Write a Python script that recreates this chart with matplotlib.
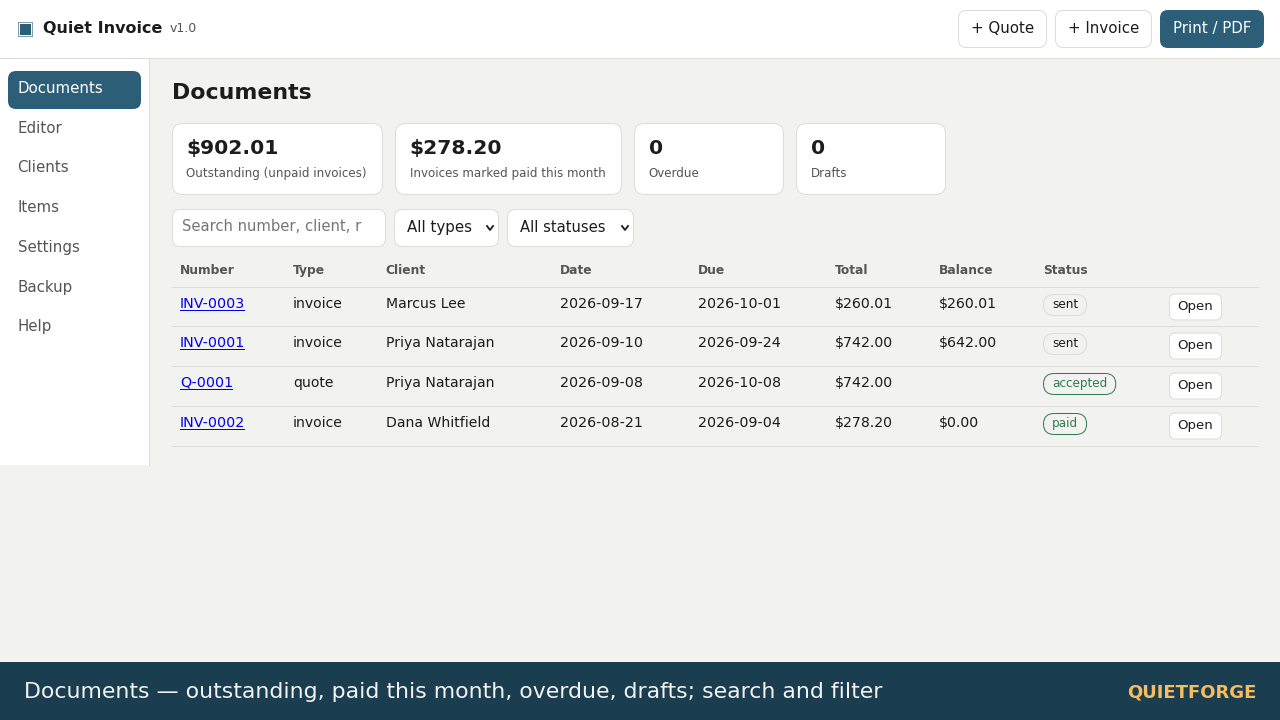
#!/usr/bin/env python3
# -*- coding: utf-8 -*-
import matplotlib
matplotlib.use("Agg")
import matplotlib.pyplot as plt
from matplotlib.patches import FancyBboxPatch, Rectangle

# contents of the page
nav_items = ["Documents", "Editor", "Clients", "Items", "Settings", "Backup", "Help"]
stat_values = ["$902.01", "$278.20", "0", "0"]
stat_labels = ["Outstanding (unpaid invoices)", "Invoices marked paid this month", "Overdue", "Drafts"]
columns = ["Number", "Type", "Client", "Date", "Due", "Total", "Balance", "Status"]
numbers = ["INV-0003", "INV-0001", "Q-0001", "INV-0002"]
types = ["invoice", "invoice", "quote", "invoice"]
clients = ["Marcus Lee", "Priya Natarajan", "Priya Natarajan", "Dana Whitfield"]
dates = ["2026-09-17", "2026-09-10", "2026-09-08", "2026-08-21"]
dues = ["2026-10-01", "2026-09-24", "2026-10-08", "2026-09-04"]
totals = ["$260.01", "$742.00", "$742.00", "$278.20"]
balances = ["$260.01", "$642.00", "", "$0.00"]
statuses = ["sent", "sent", "accepted", "paid"]

TEAL = "#2c5f77"
INK = "#1c1c1c"
GREY = "#555555"
BORDER = "#dcdcd9"
GREEN = "#2e7d50"
LW = 0.72

plt.rcParams["font.family"] = ["DejaVu Sans"]
fig = plt.figure(figsize=(12.8, 7.2), dpi=100, facecolor="#f2f2f0")
ax = fig.add_axes([0, 0, 1, 1])
ax.set_xlim(0, 1280)
ax.set_ylim(720, 0)
ax.axis("off")


def px(size):
    return size * 72 / 100


def box(x, y, w, h, r, fc, ec="none", lw=LW, z=2):
    ax.add_patch(FancyBboxPatch((x, y), w, h, boxstyle=f"round,pad=0,rounding_size={r}",
                                fc=fc, ec=ec, lw=lw, zorder=z))


def label(x, y, s, size, color=INK, weight="normal", ha="left"):
    return ax.text(x, y, s, fontsize=px(size), color=color, fontweight=weight, ha=ha, va="baseline", zorder=5)


# top bar and sidebar
ax.add_patch(Rectangle((0, 0), 1280, 58, fc="white", ec="none", zorder=1))
ax.plot([0, 1280], [58.2, 58.2], color=BORDER, lw=LW, zorder=2)
ax.add_patch(Rectangle((0, 59), 149, 406, fc="white", ec="none", zorder=1))
ax.plot([149.2, 149.2], [59, 465], color=BORDER, lw=LW, zorder=2)

ax.add_patch(Rectangle((18, 22), 15, 15, fc="#7f9fae", ec="none", zorder=3))
ax.add_patch(Rectangle((19, 23), 13, 13, fc="white", ec="none", zorder=4))
ax.add_patch(Rectangle((20, 24), 11, 11, fc=TEAL, ec="none", zorder=4))
label(43, 33, "Quiet Invoice", 16, weight="bold")
label(170, 32.5, "v1.0", 12.5, color=GREY)

box(958.5, 10.5, 88, 37, 8, "white", BORDER)
label(1002.5, 33, "+ Quote", 15, ha="center")
box(1055.5, 10.5, 96, 37, 8, "white", BORDER)
label(1103.5, 33, "+ Invoice", 15, ha="center")
box(1160, 10, 104, 38, 8, TEAL)
label(1212, 33, "Print / PDF", 15, color="white", ha="center")

# navigation
box(8, 71, 133, 38, 8, TEAL)
nav_y = [93, 133, 172, 212, 252, 292, 331]
for i, item in enumerate(nav_items):
    label(17.6, nav_y[i], item, 15, color="white" if i == 0 else GREY)

label(172, 99, "Documents", 22, weight="bold")

# stat cards
card_x = [172.5, 395.5, 634.5, 796.5]
card_w = [210, 226, 149, 149]
for i in range(4):
    box(card_x[i], 123.5, card_w[i], 71, 10, "white", BORDER)
    label(card_x[i] + 14, 154, stat_values[i], 20.3, weight="bold")
    label(card_x[i] + 14, 177, stat_labels[i], 11.95, color=GREY)

# filters
box(172.5, 209.5, 213, 37, 8, "white", BORDER)
t = label(182, 231, "Search number, client, r", 14.8, color="#757575")
t.set_clip_path(Rectangle((182, 209), 181, 38, transform=ax.transData))
box(394.5, 209.5, 104, 37, 8, "white", BORDER)
label(407, 232, "All types", 15)
box(507.5, 209.5, 126, 37, 8, "white", BORDER)
label(520.5, 232, "All statuses", 14.8)
for cx in [490, 625]:
    ax.plot([cx - 3, cx, cx + 3], [226, 230, 226], color=INK, lw=1.3, zorder=5)

# table
col_x = [180, 293, 385.6, 560, 698, 835, 939, 1043]
for x, name in zip(col_x, columns):
    label(x, 274, name, 12.2, color=GREY, weight="bold")
ax.plot([172, 1258], [287.2, 287.2], color=BORDER, lw=LW, zorder=2)

row_base = [308, 347, 387, 427]
row_rule = [326.2, 366.2, 406.2, 446.2]
fig.canvas.draw()
rend = fig.canvas.get_renderer()
for i in range(len(numbers)):
    y = row_base[i]
    link = label(col_x[0], y, numbers[i], 14.2, color="#0000ee")
    w = link.get_window_extent(rend).width
    ax.plot([col_x[0], col_x[0] + w - 1.5], [y + 2, y + 2], color="#0000ee", lw=LW, zorder=5)
    label(col_x[1], y, types[i], 14)
    label(col_x[2], y, clients[i], 14)
    label(col_x[3], y, dates[i], 14.2)
    label(col_x[4], y, dues[i], 14.2)
    label(col_x[5], y, totals[i], 14.1)
    label(col_x[6], y, balances[i], 14.1)

    good = statuses[i] != "sent"
    pill = label(col_x[7] + 9, y, statuses[i], 12, color=GREEN if good else INK)
    pw = pill.get_window_extent(rend).width
    box(col_x[7] + 0.5, y - 13.5, pw + 17, 21, 10.5, "#f2f2f0", GREEN if good else BORDER)

    box(1169.5, y - 14, 52, 26, 6, "white", BORDER)
    label(1195.5, y + 2.4, "Open", 13.3, ha="center")
    ax.plot([172, 1258], [row_rule[i], row_rule[i]], color=BORDER, lw=LW, zorder=2)

# caption strip
ax.add_patch(Rectangle((0, 662), 1280, 58, fc="#1b3d50", ec="none", zorder=1))
label(24, 698, "Documents \u2014 outstanding, paid this month, overdue, drafts; search and filter", 21.95, color="#f2f2f0")
label(1256, 698, "QUIETFORGE", 18, color="#f6bd60", weight="bold", ha="right")

fig.savefig("out.png", dpi=100, facecolor=fig.get_facecolor())
